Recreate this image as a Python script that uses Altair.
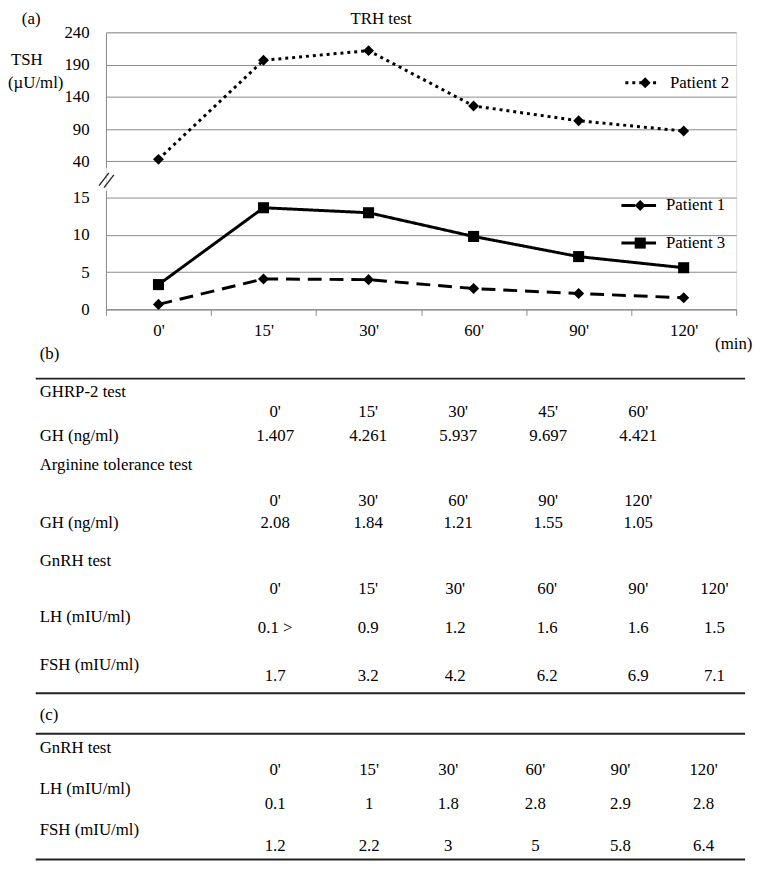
import altair as alt
import pandas as pd

# ---------------- (a) TRH test ----------------
times = ["0'", "15'", "30'", "60'", "90'", "120'"]
patient1 = [0.67, 4.09, 4.0, 2.8, 2.13, 1.56]
patient2 = [43, 197, 212, 126, 103, 87]
patient3 = [3.33, 13.67, 13.0, 9.81, 7.1, 5.6]
upper_ticks = [40, 90, 140, 190, 240]
lower_ticks = [0, 5, 10, 15]
annotations = ["(a)", "TRH test", "TSH", "(µU/ml)"]
legend_labels = ["Patient 2", "Patient 1", "Patient 3"]

# ---------------- (b), (c) tables ----------------
row_labels = ["(b)", "GHRP-2 test", "GH (ng/ml)", "Arginine tolerance test", "GH (ng/ml)",
              "GnRH test", "LH (mIU/ml)", "FSH (mIU/ml)",
              "(c)", "GnRH test", "LH (mIU/ml)", "FSH (mIU/ml)"]
ghrp_times = ["0'", "15'", "30'", "45'", "60'"]
ghrp_gh = ["1.407", "4.261", "5.937", "9.697", "4.421"]
arg_times = ["0'", "30'", "60'", "90'", "120'"]
arg_gh = ["2.08", "1.84", "1.21", "1.55", "1.05"]
gnrh_times = ["0'", "15'", "30'", "60'", "90'", "120'"]
b_lh = ["0.1 >", "0.9", "1.2", "1.6", "1.6", "1.5"]
b_fsh = ["1.7", "3.2", "4.2", "6.2", "6.9", "7.1"]
c_lh = ["0.1", "1", "1.8", "2.8", "2.9", "2.8"]
c_fsh = ["1.2", "2.2", "3", "5", "5.8", "6.4"]

# ---------------- layout / style ----------------
FONT = "Liberation Serif, Times New Roman, Times, DejaVu Serif, serif"
FS = 17
GRAY = "#8a8a8a"
OX, OY = 107, 28          # plot-area origin on the page
W, H = 637, 280

row_order = ["b_title", "b_rule_top", "ghrp_name", "ghrp_time", "ghrp_gh", "arg_name", "arg_time",
             "arg_gh", "gnrh_name", "gnrh_time", "gnrh_lh_label", "gnrh_lh", "gnrh_fsh_label",
             "gnrh_fsh", "b_rule_bottom", "c_title", "c_rule_top", "c_name", "c_time", "c_lh_label",
             "c_lh", "c_fsh_label", "c_fsh", "c_rule_bottom"]
ROW_Y = [353, 378, 392, 412, 436, 465, 502, 524, 562, 591, 619, 630, 668, 679, 696,
         718, 737, 751, 774, 793, 808, 834, 850, 864]
COL_X = {"b5": [278, 372, 463, 554, 645],
         "b6": [278, 372, 460, 553, 645, 722],
         "c6": [278, 373, 453, 541, 627, 711]}

ridx = {k: i for i, k in enumerate(row_order)}
row_scale = alt.Scale(domain=list(range(len(row_order))), range=[y - OY for y in ROW_Y],
                      zero=False, nice=False)

# ---------------- line chart ----------------
df_up = pd.DataFrame({"time": times, "idx": list(range(6)), "value": patient2,
                      "patient": ["Patient 2"] * 6})
df_low = pd.DataFrame({"time": times * 2, "idx": list(range(6)) * 2,
                       "value": patient1 + patient3,
                       "patient": ["Patient 1"] * 6 + ["Patient 3"] * 6})

x_scale = alt.Scale(type="band", domain=times, paddingInner=0, paddingOuter=0)
x_plain = alt.X("time:N", scale=x_scale, sort=times, axis=None)
x_axis = alt.X("time:N", scale=x_scale, sort=times, axis=alt.Axis(
    orient="bottom", tickBand="extent", grid=False, ticks=True, tickSize=6, tickColor=GRAY,
    tickWidth=1, domainColor=GRAY, domainWidth=1, labelFont=FONT, labelFontSize=FS,
    labelColor="black", labelAngle=0, labelPadding=7, title="(min)", titleFont=FONT,
    titleFontSize=FS, titleFontWeight="normal", titleColor="black", titleX=634, titleY=35,
    titleAlign="center", titleBaseline="middle"))

up_scale = alt.Scale(domain=[30, 240], range=[164.8 - OY, 28.3 - OY], zero=False, nice=False)
low_scale = alt.Scale(domain=[0, 16], range=[280, 159.8], zero=False, nice=False)


def yaxis(vals):
    return alt.Axis(orient="left", values=vals, grid=True, gridColor=GRAY, gridWidth=1,
                    ticks=False, domainColor=GRAY, domainWidth=1, labelFont=FONT,
                    labelFontSize=FS, labelColor="black", labelPadding=17, title=None)


dash_scale = alt.Scale(domain=["Patient 1", "Patient 2", "Patient 3"],
                       range=[[14, 8], [3, 4], [1, 0]])
shape_scale = alt.Scale(domain=["Patient 1", "Patient 2", "Patient 3"],
                        range=["diamond", "diamond", "square"])

up_line = alt.Chart(df_up).mark_line(color="black", strokeWidth=3).encode(
    x=x_plain,
    y=alt.Y("value:Q", scale=up_scale, axis=yaxis(upper_ticks)),
    order=alt.Order("idx:Q"),
    strokeDash=alt.StrokeDash("patient:N", scale=dash_scale, legend=None),
)
up_pts = alt.Chart(df_up).mark_point(filled=True, color="black", opacity=1, size=121).encode(
    x=x_plain,
    y=alt.Y("value:Q", scale=up_scale, axis=None),
    shape=alt.Shape("patient:N", scale=shape_scale, legend=None),
)
low_line = alt.Chart(df_low).mark_line(color="black", strokeWidth=3).encode(
    x=x_axis,
    y=alt.Y("value:Q", scale=low_scale, axis=yaxis(lower_ticks)),
    order=alt.Order("idx:Q"),
    strokeDash=alt.StrokeDash("patient:N", scale=dash_scale, legend=None),
)
low_pts = alt.Chart(df_low).mark_point(filled=True, color="black", opacity=1, size=125).encode(
    x=x_plain,
    y=alt.Y("value:Q", scale=low_scale, axis=None),
    shape=alt.Shape("patient:N", scale=shape_scale, legend=None),
)

one = pd.DataFrame({"a": [0]})
breaks = [
    alt.Chart(one).mark_rule(color="#222222", strokeWidth=1.3).encode(
        x=alt.value(-7), y=alt.value(155), x2=alt.value(3), y2=alt.value(142)),
    alt.Chart(one).mark_rule(color="#222222", strokeWidth=1.3).encode(
        x=alt.value(-2), y=alt.value(157), x2=alt.value(8), y2=alt.value(144)),
]

ann_pos = [(22 - OX, 15 - OY, "left"), (385 - OX, 15 - OY, "center"),
           (11 - OX, 56 - OY, "left"), (8 - OX, 79 - OY, "left")]
ann_layers = []
for txt, (ax, ay, al) in zip(annotations, ann_pos):
    ann_layers.append(
        alt.Chart(pd.DataFrame({"t": [txt]})).mark_text(
            align=al, baseline="middle", font=FONT, fontSize=FS, color="black").encode(
            text="t:N", x=alt.value(ax), y=alt.value(ay)))

# ---------------- manual legend (line sample + marker + label) ----------------
leg_geom = {  # page coords: line x0, x1, marker x, text x, y
    "Patient 2": (632, 667, 652, 677, 79, [3, 4], "diamond", 121),
    "Patient 1": (628, 663, 647, 673, 203, [14, 8], "diamond", 121),
    "Patient 3": (628, 663, 647, 673, 241, [1, 0], "square", 125),
}
legend_layers = []
for name in legend_labels:
    x0, x1, mx, tx, ly, dash, shp, sz = leg_geom[name]
    d = pd.DataFrame({"t": [name]})
    legend_layers.append(alt.Chart(d).mark_rule(color="black", strokeWidth=3, strokeDash=dash).encode(
        x=alt.value(x0 - OX), x2=alt.value(x1 - OX), y=alt.value(ly - OY)))
    legend_layers.append(alt.Chart(d).mark_point(filled=True, color="black", opacity=1,
                                                 shape=shp, size=sz).encode(
        x=alt.value(mx - OX), y=alt.value(ly - OY)))
    legend_layers.append(alt.Chart(d).mark_text(
        align="left", baseline="middle", font=FONT, fontSize=FS, color="black").encode(
        text="t:N", x=alt.value(tx - OX), y=alt.value(ly - OY)))

# ---------------- tables ----------------
label_rows = ["b_title", "ghrp_name", "ghrp_gh", "arg_name", "arg_gh", "gnrh_name",
              "gnrh_lh_label", "gnrh_fsh_label", "c_title", "c_name", "c_lh_label", "c_fsh_label"]
df_labels = pd.DataFrame({"t": row_labels, "row": [ridx[r] for r in label_rows]})
labels = alt.Chart(df_labels).mark_text(
    align="left", baseline="middle", font=FONT, fontSize=FS, color="black").encode(
    text="t:N", x=alt.value(40 - OX),
    y=alt.Y("row:Q", scale=row_scale, axis=None))

sections = {
    "b5": [("ghrp_time", ghrp_times), ("ghrp_gh", ghrp_gh), ("arg_time", arg_times),
           ("arg_gh", arg_gh)],
    "b6": [("gnrh_time", gnrh_times), ("gnrh_lh", b_lh), ("gnrh_fsh", b_fsh)],
    "c6": [("c_time", gnrh_times), ("c_lh", c_lh), ("c_fsh", c_fsh)],
}
value_layers = []
for key, rows in sections.items():
    recs = []
    for rk, vals in rows:
        for ci, v in enumerate(vals):
            recs.append({"t": v, "col": ci, "row": ridx[rk]})
    cols = COL_X[key]
    value_layers.append(
        alt.Chart(pd.DataFrame(recs)).mark_text(
            align="center", baseline="middle", font=FONT, fontSize=FS, color="black").encode(
            text="t:N",
            x=alt.X("col:Q", scale=alt.Scale(domain=list(range(len(cols))),
                                             range=[c - OX for c in cols],
                                             zero=False, nice=False), axis=None),
            y=alt.Y("row:Q", scale=row_scale, axis=None)))

rule_rows = ["b_rule_top", "b_rule_bottom", "c_rule_top", "c_rule_bottom"]
rules = alt.Chart(pd.DataFrame({"row": [ridx[r] for r in rule_rows]})).mark_rule(
    color="#222222", strokeWidth=2).encode(
    y=alt.Y("row:Q", scale=row_scale, axis=None),
    x=alt.value(36 - OX), x2=alt.value(753 - OX))

chart = alt.layer(
    up_line, up_pts, low_line, low_pts, *breaks, *ann_layers, *legend_layers,
    labels, *value_layers, rules
).resolve_scale(
    x="independent", y="independent", strokeDash="independent", shape="independent"
).properties(
    width=W, height=H,
    autosize=alt.AutoSizeParams(type="none"),
    padding={"left": OX - 8, "top": OY - 8, "right": 18, "bottom": 557},
).configure_view(strokeWidth=0).configure(font=FONT)

chart.save("out.html", embed_options={"renderer": "svg", "actions": False})
